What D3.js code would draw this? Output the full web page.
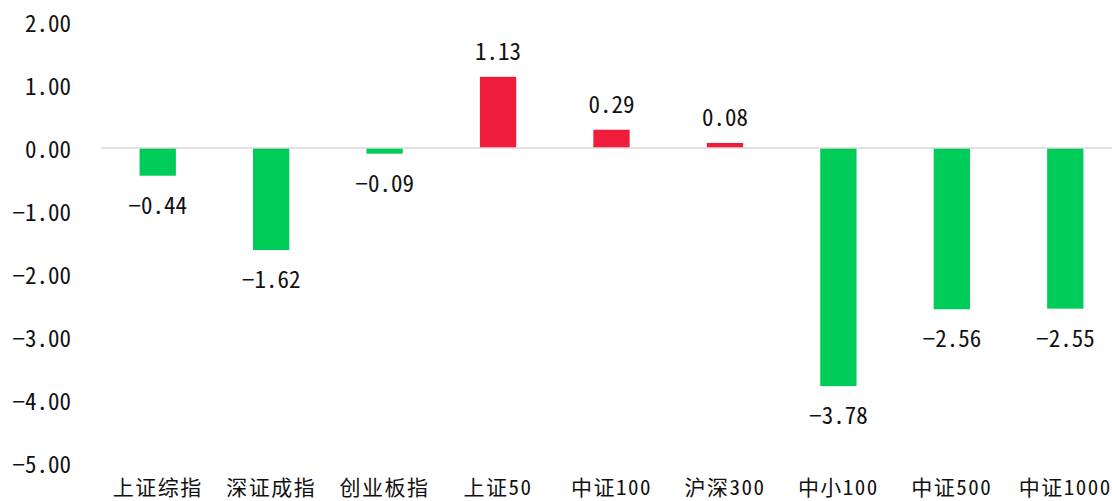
<!DOCTYPE html>
<html>
<head>
<meta charset="utf-8">
<script src="https://cdn.jsdelivr.net/npm/d3@7"></script>
<style>
  html, body { margin: 0; padding: 0; background: #fff; }
  svg { display: block; }
  text { font-family: "Noto Sans Mono CJK SC", "Noto Sans CJK SC", sans-serif; fill: #111; }
</style>
</head>
<body>
<div id="chart"></div>
<script>
// Index names and returns (%)
const categories = ['上证综指', '深证成指', '创业板指', '上证50', '中证100', '沪深300', '中小100', '中证500', '中证1000'];
const values = [-0.44, -1.62, -0.09, 1.13, 0.29, 0.08, -3.78, -2.56, -2.55];
const yTicks = [2, 1, 0, -1, -2, -3, -4, -5];

const width = 1112;
const height = 501;
const margin = { top: 22, right: -10, bottom: 38, left: 101 };

const svg = d3.select('#chart').append('svg')
  .attr('width', width)
  .attr('height', height);

const x = d3.scaleBand()
  .domain(categories)
  .range([margin.left, width - margin.right])
  .paddingInner(0.68)
  .paddingOuter(0.34);

const y = d3.scaleLinear()
  .domain([-5, 2])
  .range([height - margin.bottom, margin.top]);

const fmt = d => d3.format('.2f')(d).replace('-', '−');

// y axis labels, no line
svg.append('g')
  .selectAll('text')
  .data(yTicks)
  .join('text')
  .attr('x', 71)
  .attr('y', d => y(d))
  .attr('text-anchor', 'end')
  .attr('dominant-baseline', 'central')
  .attr('font-size', '23px')
  .text(fmt);

// bars
svg.append('g')
  .selectAll('rect')
  .data(values)
  .join('rect')
  .attr('x', (d, i) => x(categories[i]))
  .attr('width', x.bandwidth())
  .attr('y', d => y(Math.max(0, d)))
  .attr('height', d => Math.abs(y(d) - y(0)))
  .attr('fill', d => d >= 0 ? '#ee1d3c' : '#00cc5a');

// zero line
svg.append('line')
  .attr('x1', margin.left)
  .attr('x2', width)
  .attr('y1', y(0))
  .attr('y2', y(0))
  .attr('stroke', '#d9d9d9')
  .attr('stroke-width', 1.5);

// value labels
svg.append('g')
  .selectAll('text')
  .data(values)
  .join('text')
  .attr('x', (d, i) => x(categories[i]) + x.bandwidth() / 2)
  .attr('y', d => d >= 0 ? y(d) - 27 : y(d) + 28)
  .attr('text-anchor', 'middle')
  .attr('dominant-baseline', 'central')
  .attr('font-size', '23px')
  .text(fmt);

// category labels
svg.append('g')
  .selectAll('text')
  .data(categories)
  .join('text')
  .attr('x', d => x(d) + x.bandwidth() / 2)
  .attr('y', 486)
  .attr('text-anchor', 'middle')
  .attr('dominant-baseline', 'central')
  .attr('font-size', '21px')
  .attr('letter-spacing', '1.5px')
  .text(d => d);
</script>
</body>
</html>
